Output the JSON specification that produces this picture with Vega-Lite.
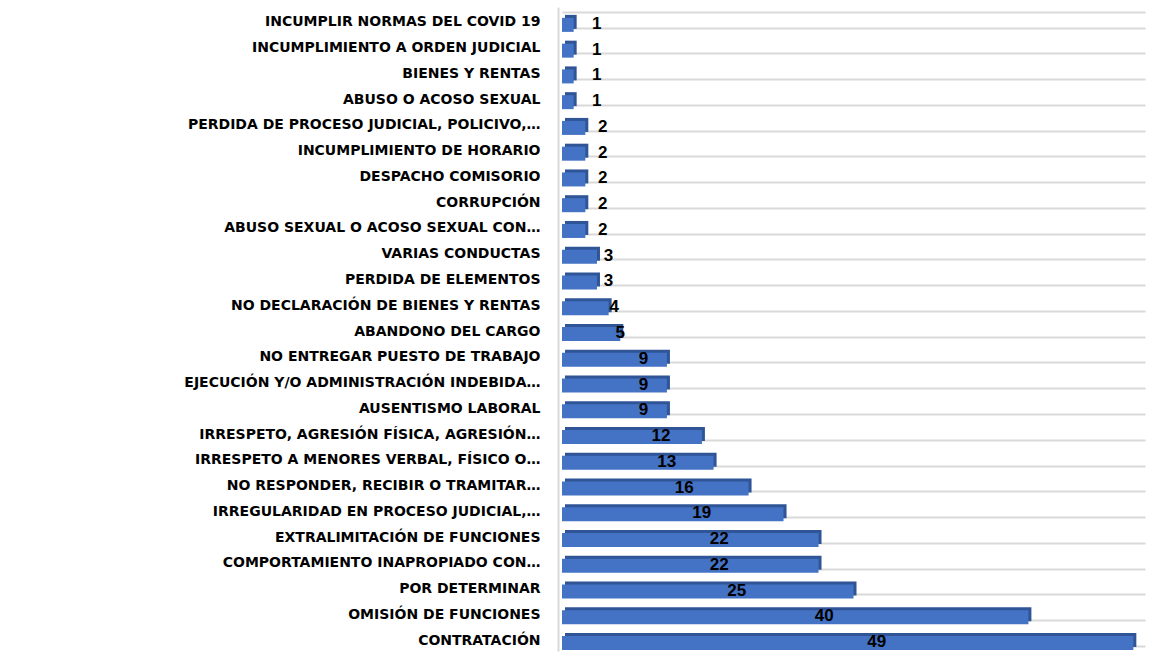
{
  "$schema": "https://vega.github.io/schema/vega-lite/v6.json",
  "width": 583,
  "height": 644,
  "autosize": {"type": "none"},
  "padding": {"left": 562, "top": 7, "right": 4, "bottom": 4},
  "background": "white",
  "config": {"view": {"stroke": null}},
  "data": {
    "values": [
      {"category": "INCUMPLIR NORMAS DEL COVID 19", "value": 1},
      {"category": "INCUMPLIMIENTO A ORDEN JUDICIAL", "value": 1},
      {"category": "BIENES Y RENTAS", "value": 1},
      {"category": "ABUSO O ACOSO SEXUAL", "value": 1},
      {"category": "PERDIDA DE PROCESO JUDICIAL, POLICIVO,…", "value": 2},
      {"category": "INCUMPLIMIENTO DE HORARIO", "value": 2},
      {"category": "DESPACHO COMISORIO", "value": 2},
      {"category": "CORRUPCIÓN", "value": 2},
      {"category": "ABUSO SEXUAL O ACOSO SEXUAL CON…", "value": 2},
      {"category": "VARIAS CONDUCTAS", "value": 3},
      {"category": "PERDIDA DE ELEMENTOS", "value": 3},
      {"category": "NO DECLARACIÓN DE BIENES Y RENTAS", "value": 4},
      {"category": "ABANDONO DEL CARGO", "value": 5},
      {"category": "NO ENTREGAR PUESTO DE TRABAJO", "value": 9},
      {"category": "EJECUCIÓN Y/O ADMINISTRACIÓN INDEBIDA…", "value": 9},
      {"category": "AUSENTISMO LABORAL", "value": 9},
      {"category": "IRRESPETO, AGRESIÓN FÍSICA, AGRESIÓN…", "value": 12},
      {"category": "IRRESPETO A MENORES VERBAL, FÍSICO O…", "value": 13},
      {"category": "NO RESPONDER, RECIBIR O TRAMITAR…", "value": 16},
      {"category": "IRREGULARIDAD EN PROCESO JUDICIAL,…", "value": 19},
      {"category": "EXTRALIMITACIÓN DE FUNCIONES", "value": 22},
      {"category": "COMPORTAMIENTO INAPROPIADO CON…", "value": 22},
      {"category": "POR DETERMINAR", "value": 25},
      {"category": "OMISIÓN DE FUNCIONES", "value": 40},
      {"category": "CONTRATACIÓN", "value": 49}
    ]
  },
  "encoding": {
    "y": {
      "field": "category",
      "type": "nominal",
      "sort": null,
      "title": null,
      "scale": {"paddingInner": 0.4, "paddingOuter": 0.2},
      "axis": {
        "ticks": false,
        "tickBand": "extent",
        "grid": true,
        "gridColor": "#D9D9D9",
        "gridWidth": 2,
        "domain": true,
        "domainColor": "#D9D9D9",
        "domainWidth": 2,
        "offset": 4,
        "labelPadding": 18,
        "labelOffset": 2,
        "labelFont": "DejaVu Sans",
        "labelFontWeight": "bold",
        "labelFontSize": 14,
        "labelColor": "#000000",
        "labelLimit": 0
      }
    }
  },
  "layer": [
    {
      "mark": {"type": "bar", "color": "#2F5597", "size": 14, "xOffset": 3, "yOffset": 2},
      "encoding": {
        "x": {"field": "value", "type": "quantitative", "scale": {"domain": [0, 50]}, "axis": null}
      }
    },
    {
      "mark": {"type": "bar", "color": "#4472C4", "size": 14, "yOffset": 5},
      "encoding": {
        "x": {"field": "value", "type": "quantitative"}
      }
    },
    {
      "transform": [{"calculate": "datum.value / 2", "as": "mid"}],
      "mark": {"type": "text", "font": "Liberation Sans", "fontWeight": "bold", "fontSize": 17, "color": "#000000", "dx": 29, "dy": 4, "align": "center", "baseline": "middle"},
      "encoding": {
        "x": {"field": "mid", "type": "quantitative"},
        "text": {"field": "value", "type": "quantitative"}
      }
    }
  ]
}
